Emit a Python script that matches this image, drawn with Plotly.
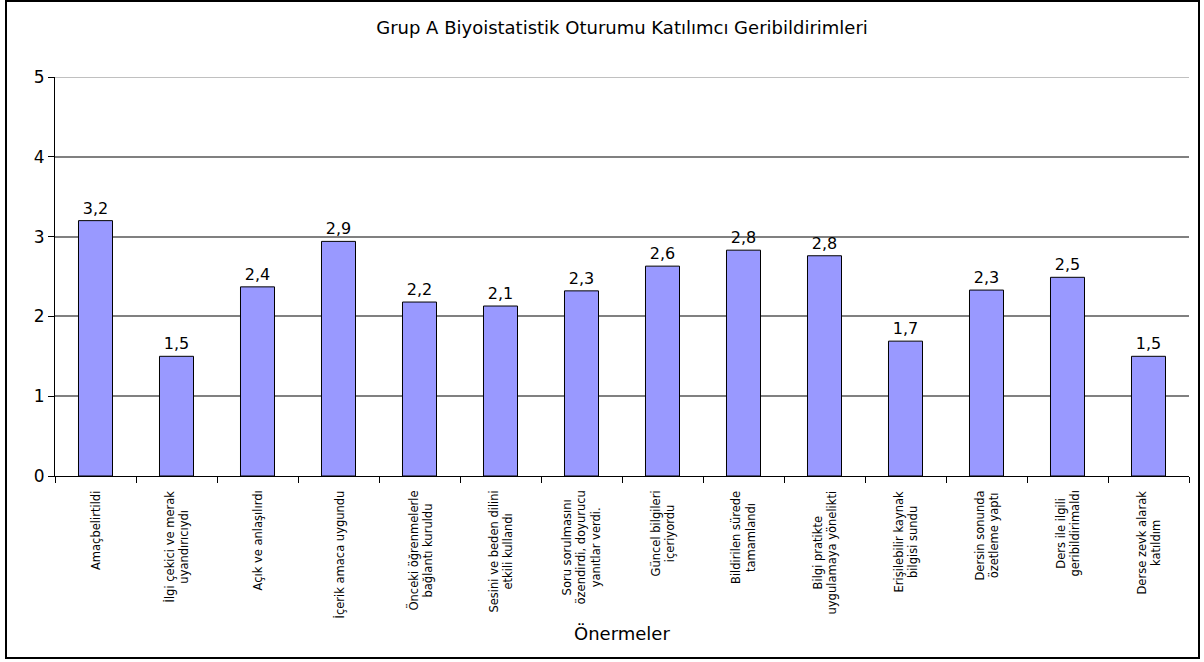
import plotly.graph_objects as go

title = "Grup A Biyoistatistik Oturumu Katılımcı Geribildirimleri"
x_title = "Önermeler"
categories = [
    "Amaçbelirtildi",
    "İlgi çekici ve merak<br>uyandırıcıydı",
    "Açık ve anlaşılırdı",
    "İçerik amaca uygundu",
    "Önceki öğrenmelerle<br>bağlantı kuruldu",
    "Sesini ve beden dilini<br>etkili kullandı",
    "Soru sorulmasını<br>özendirdi, doyurucu<br>yanıtlar verdi.",
    "Güncel bilgileri<br>içeriyordu",
    "Bildirilen sürede<br>tamamlandı",
    "Bilgi pratikte<br>uygulamaya yönelikti",
    "Erişilebilir kaynak<br>bilgisi sundu",
    "Dersin sonunda<br>özetleme yaptı",
    "Ders ile ilgili<br>geribildirimaldı",
    "Derse zevk alarak<br>katıldım",
]
values = [3.20, 1.50, 2.37, 2.94, 2.18, 2.13, 2.32, 2.63, 2.83, 2.76, 1.69, 2.33, 2.49, 1.50]
y_ticks = [0, 1, 2, 3, 4, 5]

FONT = "DejaVu Sans, Liberation Sans, Arial, sans-serif"

# plot area in pixels: x 55..1189, y 77..476
def py(p):
    return (476 - p) / 399

fig = go.Figure(
    go.Bar(
        x=categories,
        y=values,
        marker=dict(color="#9999FF", line=dict(color="black", width=1)),
        texttemplate="%{y:.1f}",
        textposition="outside",
        textfont=dict(family=FONT, size=16, color="black"),
        cliponaxis=False,
    )
)

cat_annotations = [
    dict(text=c, x=c, xref="x", yref="paper", y=py(489),
         xanchor="center", yanchor="top", textangle=-90, align="center",
         showarrow=False, font=dict(family=FONT, size=11.5, color="black"))
    for c in categories
]

fig.update_layout(
    width=1204,
    height=662,
    separators=",.",
    paper_bgcolor="white",
    plot_bgcolor="white",
    margin=dict(l=55, r=15, t=77, b=186),
    bargap=0.58,
    showlegend=False,
    font=dict(family=FONT, color="black"),
    title=dict(
        text=title,
        x=0.5,
        xref="paper",
        xanchor="center",
        y=1 - 28 / 662,
        yanchor="middle",
        font=dict(family=FONT, size=18, color="black"),
    ),
    xaxis=dict(
        type="category",
        showticklabels=False,
        showline=True,
        linecolor="black",
        linewidth=1,
        ticks="outside",
        tickson="boundaries",
        ticklen=6,
        tickcolor="black",
        showgrid=False,
    ),
    yaxis=dict(
        range=[0, 5],
        tickvals=y_ticks,
        tickfont=dict(family=FONT, size=17, color="black"),
        showline=True,
        linecolor="black",
        linewidth=1,
        ticks="outside",
        ticklen=6,
        tickcolor="black",
        showgrid=True,
        gridcolor="#808080",
        gridwidth=1.5,
        zeroline=False,
    ),
    shapes=[
        dict(type="line", xref="paper", yref="y", x0=0, x1=1, y0=5, y1=5,
             line=dict(color="#c0c0c0", width=2), layer="above"),
        dict(type="rect", xref="paper", yref="paper",
             x0=(6 - 55) / 1134, x1=(1199 - 55) / 1134, y0=py(658), y1=py(1),
             line=dict(color="black", width=2), fillcolor="rgba(0,0,0,0)"),
    ],
    annotations=cat_annotations + [
        dict(text=x_title, xref="paper", yref="paper", x=0.5, y=py(633),
             xanchor="center", yanchor="middle", showarrow=False,
             font=dict(family=FONT, size=18, color="black")),
    ],
)

fig.write_html(
    "out.html",
    config={"displayModeBar": False},
    post_script="document.body.style.margin='0';document.body.style.overflow='hidden';",
)
